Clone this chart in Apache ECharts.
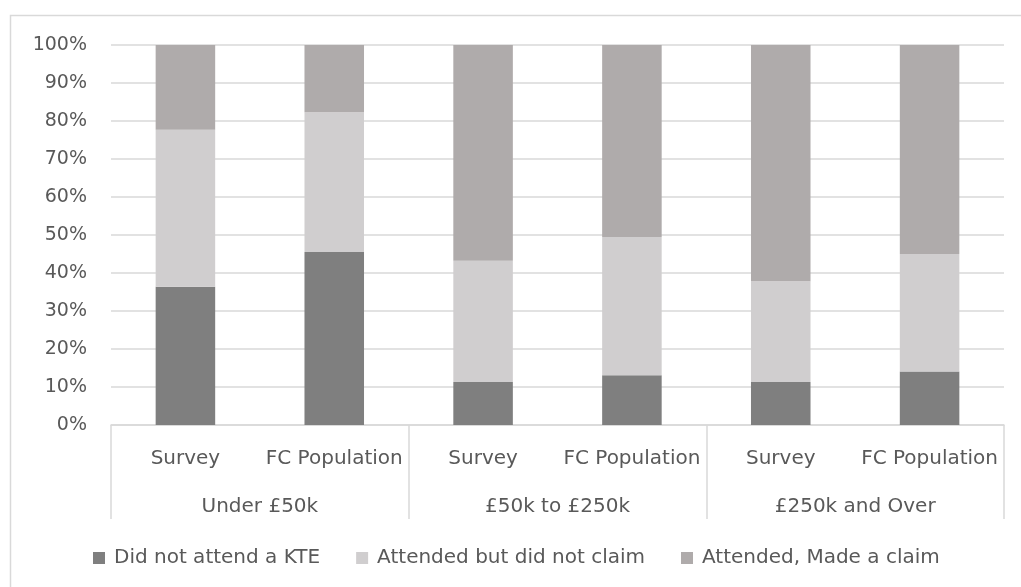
<!DOCTYPE html>
<html>
<head>
<meta charset="utf-8">
<script src="https://cdn.jsdelivr.net/npm/echarts@6/dist/echarts.min.js"></script>
<style>
  html, body { margin: 0; padding: 0; background: #fff; }
  #chart { width: 1021px; height: 587px; }
</style>
</head>
<body>
<div id="chart"></div>
<script>
  // categories
  const subCategories = ['Survey', 'FC Population', 'Survey', 'FC Population', 'Survey', 'FC Population'];
  const groups = ['Under £50k', '£50k to £250k', '£250k and Over'];

  // series values (%)
  const didNotAttend = [36.4, 45.5, 11.3, 13.1, 11.3, 14.1];
  const attendedNoClaim = [41.3, 36.8, 31.9, 36.4, 26.5, 30.9];
  const attendedClaim = [22.3, 17.7, 56.8, 50.5, 62.2, 55.0];

  const seriesNames = ['Did not attend a KTE', 'Attended but did not claim', 'Attended, Made a claim'];
  const colors = ['#7f7f7f', '#d0cecf', '#afabab'];

  const font = 'DejaVu Sans';
  const fontSize = 20;
  const textColor = '#595959';

  const myChart = echarts.init(document.getElementById('chart'));

  const series = [didNotAttend, attendedNoClaim, attendedClaim].map((vals, i) => ({
    name: seriesNames[i],
    type: 'bar',
    stack: 'total',
    barWidth: '40%',
    xAxisIndex: 0,
    data: vals,
    itemStyle: { color: colors[i] },
  }));

  const options = {
    animation: false,
    graphic: [
      {
        type: 'rect',
        shape: { x: 10.5, y: 15.5, width: 1100, height: 700 },
        style: { fill: 'none', stroke: '#d9d9d9', lineWidth: 1.5 },
        silent: true,
      },
    ],
    legend: {
      data: seriesNames,
      left: 93,
      top: 548,
      padding: 0,
      itemWidth: 12,
      itemHeight: 12,
      itemGap: 36,
      icon: 'rect',
      textStyle: {
        color: textColor,
        fontFamily: font,
        fontSize: fontSize,
        padding: [0, 0, 0, 4],
      },
    },
    grid: { left: 111, right: 17, top: 45, bottom: 162 },
    xAxis: [
      {
        type: 'category',
        position: 'bottom',
        data: subCategories,
        axisLine: { lineStyle: { color: '#d9d9d9', width: 1.5 } },
        axisTick: { show: false },
        axisLabel: {
          interval: 0,
          margin: 24,
          color: textColor,
          fontFamily: font,
          fontSize: fontSize,
        },
      },
      {
        type: 'category',
        position: 'bottom',
        data: groups,
        axisLine: { show: false },
        axisTick: {
          show: true,
          interval: 0,
          length: 94,
          lineStyle: { color: '#d9d9d9', width: 1.5 },
        },
        axisLabel: {
          interval: 0,
          margin: 72,
          color: textColor,
          fontFamily: font,
          fontSize: fontSize,
        },
      },
    ],
    yAxis: {
      type: 'value',
      min: 0,
      max: 100,
      interval: 10,
      axisLine: { show: false },
      axisTick: { show: false },
      splitLine: { lineStyle: { color: '#d9d9d9', width: 1.5 } },
      axisLabel: {
        margin: 24,
        color: textColor,
        fontFamily: font,
        fontSize: 19,
        formatter: '{value}%',
      },
    },
    series: series,
  };

  myChart.setOption(options);
</script>
</body>
</html>
